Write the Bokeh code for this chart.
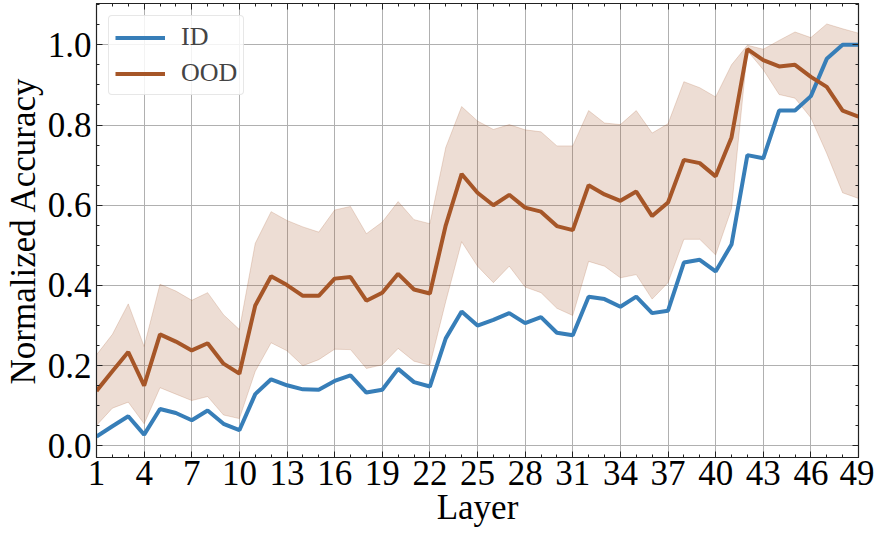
from bokeh.plotting import figure
from bokeh.models import (ColumnDataSource, Range1d, FixedTicker, PrintfTickFormatter,
                          CustomJSTickFormatter, LinearAxis, Legend, LegendItem)
from bokeh.embed import file_html
from bokeh.resources import INLINE

layers = list(range(1, 50))

id_acc = [0.023, 0.049, 0.074, 0.028, 0.092, 0.082, 0.064, 0.088, 0.055, 0.039,
          0.129, 0.166, 0.151, 0.141, 0.140, 0.162, 0.176, 0.133, 0.140, 0.192,
          0.159, 0.148, 0.268, 0.335, 0.300, 0.314, 0.331, 0.306, 0.321, 0.282,
          0.276, 0.372, 0.366, 0.347, 0.372, 0.331, 0.337, 0.457, 0.464, 0.435,
          0.502, 0.725, 0.717, 0.836, 0.836, 0.872, 0.965, 1.000, 1.000]

ood_acc = [0.137, 0.186, 0.234, 0.150, 0.278, 0.260, 0.238, 0.256, 0.205, 0.180,
           0.350, 0.423, 0.401, 0.374, 0.374, 0.417, 0.421, 0.362, 0.382, 0.429,
           0.390, 0.380, 0.550, 0.678, 0.631, 0.600, 0.626, 0.594, 0.584, 0.548,
           0.538, 0.650, 0.627, 0.611, 0.634, 0.573, 0.607, 0.713, 0.705, 0.672,
           0.769, 0.989, 0.962, 0.946, 0.950, 0.920, 0.895, 0.836, 0.821]

ood_upper = [0.227, 0.278, 0.354, 0.248, 0.403, 0.386, 0.363, 0.382, 0.327, 0.290,
             0.505, 0.584, 0.562, 0.546, 0.533, 0.588, 0.597, 0.529, 0.558, 0.609,
             0.564, 0.554, 0.744, 0.846, 0.810, 0.789, 0.801, 0.788, 0.783, 0.748,
             0.748, 0.836, 0.805, 0.801, 0.836, 0.780, 0.803, 0.908, 0.893, 0.870,
             0.950, 0.999, 0.989, 1.011, 1.032, 1.018, 1.052, 1.040, 1.029]

ood_lower = [0.051, 0.094, 0.109, 0.055, 0.145, 0.129, 0.113, 0.123, 0.077, 0.068,
             0.186, 0.257, 0.237, 0.200, 0.215, 0.241, 0.240, 0.193, 0.202, 0.243,
             0.211, 0.201, 0.360, 0.509, 0.448, 0.407, 0.448, 0.396, 0.382, 0.343,
             0.325, 0.460, 0.448, 0.419, 0.427, 0.366, 0.407, 0.515, 0.515, 0.476,
             0.591, 0.985, 0.938, 0.876, 0.867, 0.818, 0.729, 0.631, 0.617]

x_ticks = list(range(1, 50, 3))
y_ticks = [0.0, 0.2, 0.4, 0.6, 0.8, 1.0]
y_minor = [round(i * 0.05, 2) for i in range(0, 23)]

ID_COLOR = "#377eb8"
OOD_COLOR = "#a65628"
FONT = "Liberation Serif"

src = ColumnDataSource(dict(layer=layers, id=id_acc, ood=ood_acc,
                            lo=ood_lower, hi=ood_upper))

p = figure(width=874, height=529, output_backend="svg", toolbar_location=None,
           x_range=Range1d(1, 49), y_range=Range1d(-0.029, 1.103),
           min_border_left=4, min_border_right=16, min_border_top=3, min_border_bottom=0)

p.varea(x="layer", y1="lo", y2="hi", source=src, fill_color=OOD_COLOR, fill_alpha=0.2)
p.line(x="layer", y="hi", source=src, line_color=OOD_COLOR, line_alpha=0.2, line_width=1)
p.line(x="layer", y="lo", source=src, line_color=OOD_COLOR, line_alpha=0.2, line_width=1)
r_id = p.line(x="layer", y="id", source=src, line_color=ID_COLOR, line_width=4)
r_ood = p.line(x="layer", y="ood", source=src, line_color=OOD_COLOR, line_width=4)

legend = Legend(items=[LegendItem(label="ID", renderers=[r_id]),
                       LegendItem(label="OOD", renderers=[r_ood])],
                location="top_left")
legend.label_text_font = FONT
legend.label_text_font_size = "26px"
legend.glyph_width = 50
legend.glyph_height = 27
legend.label_standoff = 16
legend.label_height = 27
legend.spacing = 6
legend.padding = 6
legend.margin = 12
legend.border_line_color = "#d0d0d0"
legend.border_line_width = 1.2
legend.border_radius = 4
legend.background_fill_alpha = 0.85
p.add_layout(legend)

for g in (p.xgrid, p.ygrid):
    g.grid_line_color = "#b0b0b0"
    g.grid_line_width = 1
p.xgrid.ticker = FixedTicker(ticks=x_ticks)
p.ygrid.ticker = FixedTicker(ticks=y_ticks)

p.outline_line_color = "#222222"
p.outline_line_width = 1.2

def style_axis(ax, ticker, show_labels=True):
    ax.ticker = ticker
    ax.major_tick_in = 6
    ax.major_tick_out = 0
    ax.minor_tick_in = 3
    ax.minor_tick_out = 0
    ax.major_tick_line_color = "#222222"
    ax.minor_tick_line_color = "#222222"
    ax.axis_line_color = "#222222"
    ax.major_label_text_font = FONT
    ax.axis_label_text_font = FONT
    ax.axis_label_text_font_style = "normal"
    ax.major_label_text_color = "black"
    ax.axis_label_text_color = "black"
    if show_labels:
        ax.major_label_text_font_size = "35px"
        ax.axis_label_text_font_size = "35px"
    else:
        ax.formatter = CustomJSTickFormatter(code="return ''")
        ax.major_label_standoff = 0

x_ticker = FixedTicker(ticks=x_ticks, minor_ticks=layers)
y_ticker = FixedTicker(ticks=y_ticks, minor_ticks=y_minor)

xa = p.xaxis[0]
style_axis(xa, x_ticker)
xa.axis_label = "Layer"
xa.major_label_standoff = 3
xa.axis_label_standoff = 0

ya = p.yaxis[0]
style_axis(ya, y_ticker)
ya.axis_label = "Normalized Accuracy"
ya.formatter = PrintfTickFormatter(format="%.1f")
ya.major_label_standoff = 5
ya.axis_label_standoff = 2

top = LinearAxis()
style_axis(top, FixedTicker(ticks=x_ticks, minor_ticks=layers), show_labels=False)
p.add_layout(top, "above")
right = LinearAxis()
style_axis(right, FixedTicker(ticks=y_ticks, minor_ticks=y_minor), show_labels=False)
p.add_layout(right, "right")

open("out.html", "w").write(file_html(p, INLINE))
